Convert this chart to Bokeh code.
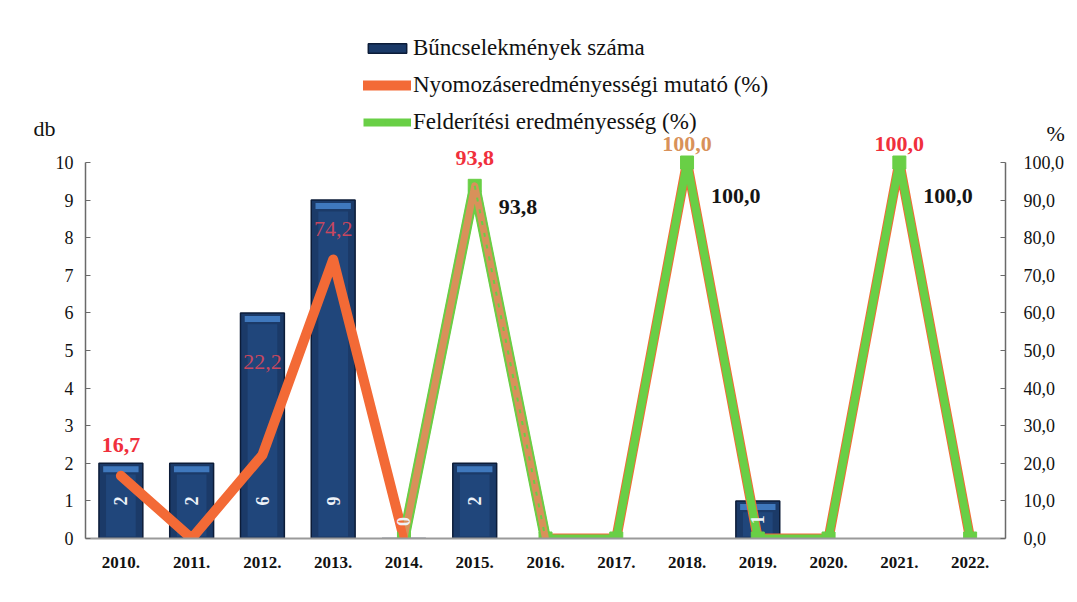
import math
from bokeh.plotting import figure
from bokeh.models import (FactorRange, Range1d, LinearAxis, FixedTicker, CustomJSTickFormatter,
                          Legend, LegendItem, ColumnDataSource)
from bokeh.core.properties import value
from bokeh.embed import file_html
from bokeh.resources import INLINE

nan = float("nan")

# ---------------- data ----------------
years = ["2010.", "2011.", "2012.", "2013.", "2014.", "2015.", "2016.",
         "2017.", "2018.", "2019.", "2020.", "2021.", "2022."]
crimes = [2, 2, 6, 9, 0, 2, nan, nan, nan, 1, nan, nan, nan]          # db
nyomozas = [16.7, 0, 22.2, 74.2, 0, 93.8, 0, 0, 100.0, 0, 0, 100.0, 0]  # %
felderites = [nan, nan, nan, nan, 0, 93.8, 0, 0, 100.0, 0, 0, 100.0, 0]  # %
left_ticks = list(range(0, 11))
right_ticks = list(range(0, 101, 10))

series_names = ["Bűncselekmények száma",
                "Nyomozáseredményességi mutató (%)",
                "Felderítési eredményesség (%)"]
left_unit = "db"
right_unit = "%"

# ---------------- styles ----------------
FONT = "Liberation Serif"
NAVY = "#1B3A68"
NAVY_DARK = "#0C1C38"
NAVY_MID = "#24508A"
CAP = "#4584CC"
ORANGE = "#F36A36"
TAN = "#D8915A"
GREEN = "#69CF46"
RED = "#F0303C"

W, H = 1077, 594
BL, BR, BT, BB = 85, 72, 30, 56
frame_h = H - BT - BB
px_per_db = 37.6
y_end = frame_h / px_per_db
pct_end = y_end * 10
UNIT_Y_LEFT = 10.9      # vertical place of the "db" caption (left-axis units)
UNIT_Y_RIGHT = 107.7    # vertical place of the "%" caption (right-axis units)

p = figure(width=W, height=H, x_range=FactorRange(*years), y_range=Range1d(0, y_end),
           output_backend="svg", toolbar_location=None,
           min_border_left=BL, min_border_right=BR, min_border_top=BT, min_border_bottom=BB)
p.extra_y_ranges = {"pct": Range1d(0, pct_end)}
p.outline_line_color = None
p.grid.visible = False
p.background_fill_color = "white"
p.border_fill_color = "white"

# ---------------- axes ----------------
xa = p.xaxis[0]
xa.axis_line_color = "#9A9A9A"
xa.axis_line_width = 2
xa.major_tick_line_color = None
xa.minor_tick_line_color = None
xa.major_label_text_font = FONT
xa.major_label_text_font_style = "bold"
xa.major_label_text_font_size = "17px"
xa.major_label_text_color = "#111111"
xa.major_label_standoff = 12

def style_y(ax, standoff):
    ax.axis_line_color = "#6A6A6A"
    ax.axis_line_width = 1.5
    ax.major_tick_in = 5
    ax.major_tick_out = 0
    ax.major_tick_line_color = "#6A6A6A"
    ax.minor_tick_line_color = None
    ax.major_label_text_font = FONT
    ax.major_label_text_font_size = "18px"
    ax.major_label_text_color = "#111111"
    ax.major_label_standoff = standoff

ya = p.yaxis[0]
ya.ticker = FixedTicker(ticks=left_ticks)
ya.bounds = (0, 10)
style_y(ya, 12)

ra = LinearAxis(y_range_name="pct", ticker=FixedTicker(ticks=right_ticks), bounds=(0, 100),
                formatter=CustomJSTickFormatter(code="return tick.toFixed(1).replace('.', ',');"))
style_y(ra, 18)
p.add_layout(ra, "right")

def unit_axis(text, rng, pos, standoff):
    kw = {} if rng is None else {"y_range_name": rng}
    ax = LinearAxis(ticker=FixedTicker(ticks=[pos]),
                    formatter=CustomJSTickFormatter(code="return %r;" % text), **kw)
    ax.axis_line_color = None
    ax.major_tick_line_color = None
    ax.minor_tick_line_color = None
    ax.major_label_text_font = FONT
    ax.major_label_text_font_size = "22px"
    ax.major_label_text_color = "#111111"
    ax.major_label_standoff = standoff
    return ax

p.add_layout(unit_axis(left_unit, None, UNIT_Y_LEFT, -9), "left")
p.add_layout(unit_axis(right_unit, "pct", UNIT_Y_RIGHT, -27), "right")

# ---------------- bars ----------------
bar_src = ColumnDataSource(dict(x=years, top=crimes))
bars = p.vbar(x="x", top="top", width=0.62, source=bar_src, fill_color=NAVY,
              line_color=NAVY_DARK, line_width=1.5)
inner = ColumnDataSource(dict(x=[y for y, v in zip(years, crimes) if v == v and v > 0.3],
                              top=[v - 0.3 for v in crimes if v == v and v > 0.3]))
p.vbar(x="x", top="top", bottom=0.05, width=0.42, source=inner, fill_color=NAVY_MID,
       fill_alpha=0.55, line_color=None)
caps = ColumnDataSource(dict(x=[y for y, v in zip(years, crimes) if v == v and v > 0],
                             top=[v - 0.08 for v in crimes if v == v and v > 0],
                             bottom=[v - 0.24 for v in crimes if v == v and v > 0]))
p.vbar(x="x", top="top", bottom="bottom", width=0.5, source=caps, fill_color=CAP,
       fill_alpha=0.85, line_color=None)

# ---------------- lines ----------------
def mask(vals, idx):
    return [v if i in idx else nan for i, v in enumerate(vals)]

orange_under = p.line(years, nyomozas, y_range_name="pct", line_color=ORANGE, line_width=10,
                      line_join="round", line_cap="round")
green_line = p.line(years, felderites, y_range_name="pct", line_color=GREEN, line_width=8,
                    line_join="round")
green_pts = p.scatter(years, felderites, y_range_name="pct", marker="square", size=13,
                      fill_color=GREEN, line_color=GREEN)
# segment where the orange series is drawn above the green one
p.line(years, mask(felderites, {4, 5, 6}), y_range_name="pct", line_color=GREEN, line_width=11,
       line_join="round")
p.line(years, mask(nyomozas, {4, 5, 6}), y_range_name="pct", line_color=TAN, line_width=7,
       line_join="round")
p.line(years, mask(felderites, {5, 6}), y_range_name="pct", line_color=GREEN, line_width=2,
       line_dash="4 8")
# bright orange first segment on top
p.line(years, mask(nyomozas, set(range(0, 5))), y_range_name="pct", line_color=ORANGE,
       line_width=8, line_join="round", line_cap="round")

# ---------------- labels ----------------
def fmt(v):
    return f"{v:.1f}".replace(".", ",")

# bar value labels (rotated, near base)
bl_x = [y for y, v in zip(years, crimes) if v == v]
bl_v = [v for v in crimes if v == v]
bl_y = [min(max(v / 2, 0.45), 1.0) for v in bl_v]
p.text(bl_x, bl_y, text=[str(int(v)) for v in bl_v], angle=math.pi / 2,
       text_align="center", text_baseline="middle", text_color="#EEF2F8",
       text_font=value(FONT), text_font_style="bold", text_font_size="18px")

# orange series labels
o_style = {0: (RED, -31, "bold", 1.0), 2: ("#E8485A", -93, "normal", 0.85),
           3: ("#E8485A", -31, "normal", 0.85), 5: (RED, -28, "bold", 1.0),
           8: (TAN, -19, "bold", 1.0), 11: (RED, -19, "bold", 1.0)}
for i, (col, off, st, al) in o_style.items():
    p.text([years[i]], [nyomozas[i]], text=[fmt(nyomozas[i])], y_range_name="pct",
           text_align="center", text_baseline="middle", y_offset=off,
           text_color=col, text_alpha=al, text_font=value(FONT), text_font_style=st,
           text_font_size="22px")

# green series labels
g_style = {5: 21, 8: 33, 11: 33}
for i, off in g_style.items():
    p.text([years[i]], [felderites[i]], text=[fmt(felderites[i])], y_range_name="pct",
           text_align="left", text_baseline="middle", x_offset=24, y_offset=off,
           text_color="#151515", text_font=value(FONT), text_font_style="bold",
           text_font_size="22px")

# ---------------- legend ----------------
legend = Legend(items=[LegendItem(label=series_names[0], renderers=[bars]),
                       LegendItem(label=series_names[1], renderers=[orange_under]),
                       LegendItem(label=series_names[2], renderers=[green_line, green_pts])],
                location=(278, 403))
legend.label_text_font = FONT
legend.label_text_font_size = "23px"
legend.label_text_color = "#111111"
legend.glyph_width = 48
legend.glyph_height = 12
legend.label_standoff = 2
legend.spacing = 11
legend.padding = 0
legend.margin = 0
legend.border_line_color = None
legend.background_fill_alpha = 0
p.add_layout(legend, "center")

open("out.html", "w").write(file_html(p, INLINE))
